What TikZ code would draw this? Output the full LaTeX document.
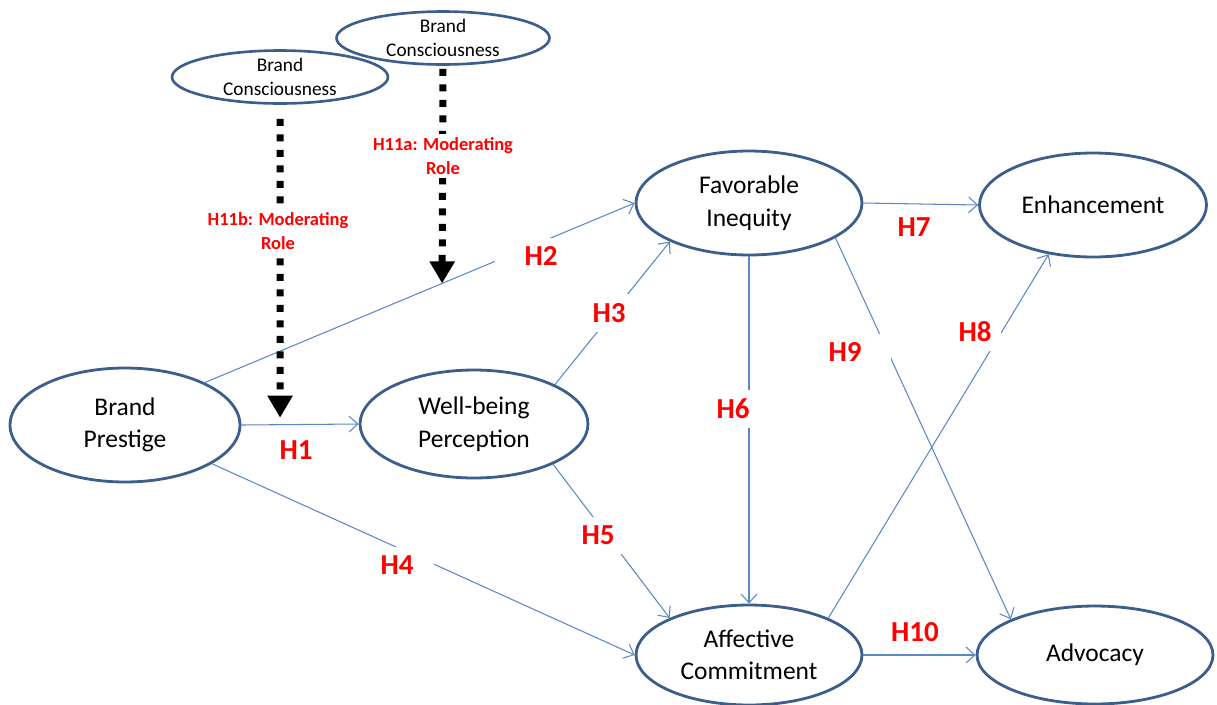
\documentclass[tikz,border=0pt]{standalone}
\usepackage{fontspec}
\setmainfont{Carlito}
\usetikzlibrary{shapes.geometric,arrows.meta}

\definecolor{rimblue}{HTML}{3B5E8C}
\definecolor{linkblue}{HTML}{5B87C5}

\begin{document}
\begin{tikzpicture}[
  % --- one unit = one pixel of the target, y pointing down
  x=0.02cm, y=-0.02cm,
  % --- constructs (outlined ellipses)
  construct/.style={ellipse, draw=rimblue, line width=1.6pt, inner sep=0pt,
    align=center, font=\fontsize{14.5}{18.5}\selectfont},
  moderator/.style={construct, line width=1.5pt,
    font=\fontsize{11}{13.6}\selectfont},
  % --- structural paths and their hypothesis labels
  link/.style={draw=linkblue, line width=0.6pt,
    -{Straight Barb[length=5pt,width=9pt]}},
  hyp/.style={text=red, fill=white, inner sep=0.18cm,
    font=\fontsize{16.5}{18}\selectfont\bfseries},
  % --- moderating effects (thick dotted)
  modlink/.style={draw=black, line width=0.14cm,
    dash pattern=on 0.14cm off 0.17cm,
    -{Triangle[length=0.44cm,width=0.48cm]}},
  modlabel/.style={text=red, fill=white, align=center, inner sep=2pt,
    font=\fontsize{10.5}{13.6}\selectfont\bfseries},
]
\useasboundingbox (0,0) rectangle (1217,704);

%========================
% Constructs
%========================
\node[construct, minimum width=4.6cm, minimum height=2.28cm]
  (prestige) at (125,425) {Brand\\Prestige};
\node[construct, minimum width=4.56cm, minimum height=2.16cm]
  (wellbeing) at (474,424) {Well-being\\Perception};
\node[construct, minimum width=4.52cm, minimum height=2.08cm]
  (inequity) at (749,203) {Favorable\\Inequity};
\node[construct, minimum width=4.54cm, minimum height=2.08cm]
  (enhance) at (1093,205) {Enhancement};
\node[construct, minimum width=4.52cm, minimum height=2.0cm]
  (commit) at (749,655) {Affective\\Commitment};
\node[construct, minimum width=4.72cm, minimum height=1.96cm]
  (advocacy) at (1095,655) {Advocacy};

% moderators
\node[moderator, minimum width=4.32cm, minimum height=1.0cm]
  (consciousA) at (280,77) {Brand\\Consciousness};
\node[moderator, minimum width=4.26cm, minimum height=0.94cm]
  (consciousB) at (443,38) {Brand\\Consciousness};

%========================
% Structural paths
%========================
\draw[link] (prestige.east) -- coordinate[pos=0.33] (h1mod) (wellbeing.west);
\draw[link] (prestige.28) -- coordinate[pos=0.552] (h2mod) (inequity.west);
\draw[link] (wellbeing.26) -- (inequity.206);
\draw[link] (prestige.-24) -- (commit.west);
\draw[link] (wellbeing.-27) -- (commit.155);
\draw[link] (inequity.south) -- (commit.north);
\draw[link] (inequity.east) -- (enhance.west);
\draw[link] (commit.25) -- (enhance.228);
\draw[link] (inequity.-22) -- (advocacy.157);
\draw[link] (commit.east) -- (advocacy.west);

% hypothesis labels (white boxes open the lines)
\node[hyp, fill=none] (lH1) at (296,450) {H1};
\node[hyp, inner xsep=0.6cm] (lH2) at (541,256) {H2};
\node[hyp] (lH3) at (609,313) {H3};
\node[hyp, inner xsep=0.42cm] (lH4) at (397,565) {H4};
\node[hyp] (lH5) at (598,535) {H5};
\node[hyp] (lH6) at (733,409) {H6};
\node[hyp, fill=none] (lH7) at (914,227) {H7};
\node[hyp] (lH8) at (975,332) {H8};
\node[hyp, inner xsep=0.6cm] (lH9) at (845,352) {H9};
\node[hyp, fill=none] (lH10) at (915,632) {H10};

%========================
% Moderating roles
%========================
\draw[modlink, shorten <=0.28cm, shorten >=0.14cm] (consciousA.south) -- (h1mod);
\draw[modlink, shorten <=0.06cm] (consciousB.south) -- (h2mod);

\node[modlabel] (lH11b) at (278,231) {H11b: Moderating\\Role};
\node[modlabel] (lH11a) at (443,156) {H11a: Moderating\\Role};

\end{tikzpicture}
\end{document}
